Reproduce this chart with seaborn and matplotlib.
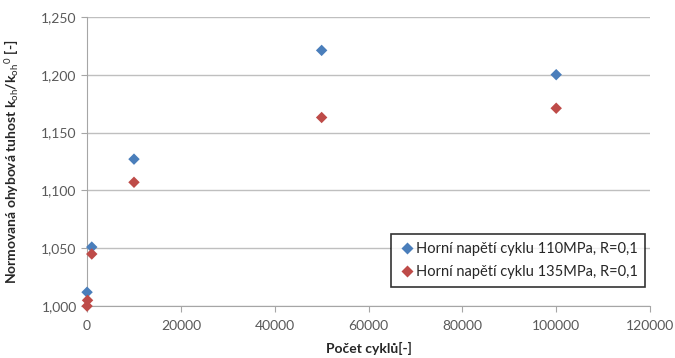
import numpy as np
import pandas as pd
import matplotlib
matplotlib.use("Agg")
import matplotlib.pyplot as plt
import seaborn as sns
from matplotlib.ticker import FuncFormatter

# -------------------------------------------------------------
#  Data
# -------------------------------------------------------------
cykly_110 = [0, 1000, 10000, 50000, 100000]
tuhost_110 = [1.012, 1.051, 1.127, 1.221, 1.200]

cykly_135 = [0, 100, 1000, 10000, 50000, 100000]
tuhost_135 = [1.000, 1.005, 1.045, 1.107, 1.163, 1.171]

serie_110 = "Horní napětí cyklu 110MPa, R=0,1"
serie_135 = "Horní napětí cyklu 135MPa, R=0,1"

x_ticks = [0, 20000, 40000, 60000, 80000, 100000, 120000]
y_ticks = [1.000, 1.050, 1.100, 1.150, 1.200, 1.250]

df = pd.concat([
    pd.DataFrame({"cykly": cykly_110, "tuhost": tuhost_110, "serie": serie_110}),
    pd.DataFrame({"cykly": cykly_135, "tuhost": tuhost_135, "serie": serie_135}),
], ignore_index=True)

sns.set_style("white")
plt.rcParams["font.family"] = ["Lato", "DejaVu Sans"]
plt.rcParams["mathtext.fontset"] = "custom"
plt.rcParams["mathtext.rm"] = "Lato"
plt.rcParams["mathtext.it"] = "Lato"
plt.rcParams["mathtext.bf"] = "Lato:bold"

fig = plt.figure(figsize=(6.75, 3.58), dpi=100)
ax = fig.add_axes([0.129, 0.145, 0.834, 0.808])

sns.scatterplot(
    data=df, x="cykly", y="tuhost", hue="serie",
    palette={serie_110: "#4a7ebb", serie_135: "#be4b48"},
    marker="D", s=34, edgecolor="none", ax=ax, zorder=3, clip_on=False,
)

ax.set_xlim(0, 120000)
ax.set_ylim(1.0, 1.25)
ax.set_xticks(x_ticks)
ax.set_yticks(y_ticks)
ax.yaxis.set_major_formatter(FuncFormatter(lambda v, p: f"{v:.3f}".replace(".", ",")))
ax.xaxis.set_major_formatter(FuncFormatter(lambda v, p: f"{int(v)}"))
ax.grid(True, axis="y", color="#bfbfbf", linewidth=1)
ax.set_axisbelow(True)
for side in ["top", "right"]:
    ax.spines[side].set_visible(False)
for side in ["left", "bottom"]:
    ax.spines[side].set_color("#a6a6a6")
ax.tick_params(axis="both", direction="out", length=4, color="#a6a6a6",
               labelsize=10, labelcolor="#595959", bottom=True, left=True)
ax.tick_params(axis="x", pad=6)

ax.set_xlabel("Počet cyklů[-]", fontsize=10, fontweight="bold", color="#262626")
ax.set_ylabel("Normovaná ohybová tuhost k$_{oh}$/k$_{oh}$$^{0}$ [-]",
              fontsize=10, fontweight="bold", color="#262626")
ax.xaxis.set_label_coords(0.5, -0.125)
ax.yaxis.set_label_coords(-0.117, 0.5)

leg = ax.legend(loc="lower right", bbox_to_anchor=(0.997, 0.055), fontsize=10.5,
                frameon=True, fancybox=False, edgecolor="black",
                handletextpad=0.1, borderpad=0.55, labelspacing=0.6,
                handlelength=1.0, borderaxespad=0.2)
leg.get_frame().set_linewidth(1.2)
for t in leg.get_texts():
    t.set_color("#262626")

fig.savefig("out.png", dpi=100)
